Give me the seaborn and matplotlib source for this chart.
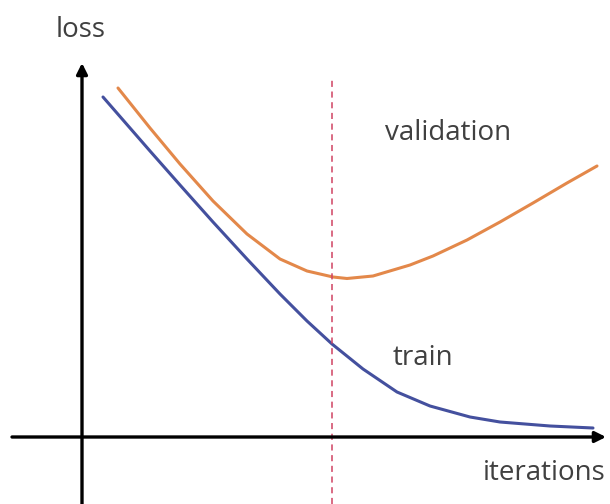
import matplotlib
matplotlib.use('Agg')
import matplotlib.pyplot as plt
import seaborn as sns

sns.set_style('white')
plt.rcParams['font.family']=['Open Sans','DejaVu Sans']

# readings from the picture (x = iterations, y = loss, origin at the axes crossing)
train_x=[21,68,98,131,165,198,225,250,281,315,348,388,418,468,511]
train_y=[340,286,252,215,178,143,116,93,68,45,31,20,15,11,9]
val_x=[36,68,98,131,165,198,225,251,265,291,328,351,385,418,451,485,515]
val_y=[349,309,273,236,203,178,166,160,158.5,161,172,181,197,215,234,254,271]
split_x=250

fig=plt.figure(figsize=(6.1,5.04),dpi=100)
ax=fig.add_axes([0,0,1,1])
ax.set_xlim(-82,528)
ax.set_ylim(-67,437)
ax.set_axis_off()

sns.lineplot(x=train_x,y=train_y,ax=ax,color='#44509e',lw=2.2,sort=False,
             solid_joinstyle='round',solid_capstyle='round')
sns.lineplot(x=val_x,y=val_y,ax=ax,color='#e3884a',lw=2.2,sort=False,
             solid_joinstyle='round',solid_capstyle='round')

# early stopping line
ax.plot([split_x,split_x],[-67,357],color='#d04262',lw=1.1,ls=(0,(4,3)))

# axes drawn as arrows
arr=dict(arrowstyle='-|>',color='black',lw=2.4,mutation_scale=16,shrinkA=0,shrinkB=0)
ax.annotate('',xy=(524,0),xytext=(-70,0),arrowprops=arr)
ax.annotate('',xy=(0,374),xytext=(0,-67),arrowprops=arr)

tc='#404040'
ax.text(-1,407,'loss',fontsize=20,color=tc,ha='center',va='center')
ax.text(462,-36,'iterations',fontsize=20,color=tc,ha='center',va='center')
ax.text(366,304,'validation',fontsize=20,color=tc,ha='center',va='center')
ax.text(341,79,'train',fontsize=20,color=tc,ha='center',va='center')

plt.savefig('out.png',dpi=100)
